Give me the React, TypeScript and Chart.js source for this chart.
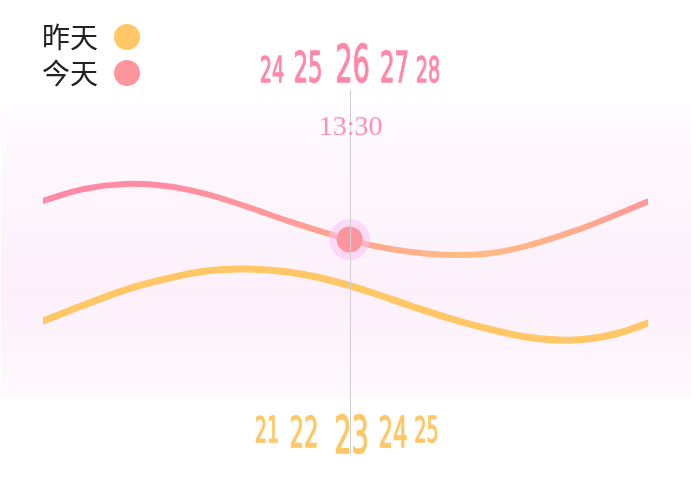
import React, { useEffect, useRef } from 'react';
import { Chart, registerables } from 'chart.js';

Chart.register(...registerables);

// ---- data ----
const hours = [5, 6, 7, 8, 9, 10, 11, 12, 13, 14, 15, 16, 17, 18, 19, 20, 21];
const todayTemps = [27.7, 28.57, 29.37, 29.7, 29.57, 29.03, 28.17, 27.23, 26.37, 25.63, 25.17, 24.97, 25.1, 25.7, 26.57, 27.63, 28.77];
const yesterdayTemps = [19.57, 20.57, 21.63, 22.63, 23.37, 23.9, 24.03, 23.83, 23.3, 22.5, 21.57, 20.7, 19.97, 19.43, 19.3, 19.7, 20.63];
const currentHour = 13.5;
const currentLabel = '13:30';
const todayNow = 26;
const todayTicks = ['24', '25', '26', '27', '28'];
const yesterdayTicks = ['21', '22', '23', '24', '25'];
const legendLabels = ['昨天', '今天'];

const YELLOW = '#ffc766';
const PINK_DOT = '#ff959c';
const PINK_TEXT = '#ff88aa';

function drawNum(ctx: CanvasRenderingContext2D, text: string, cx: number, baseline: number, h: number, color: string) {
  const fs = h / 0.729;
  ctx.save();
  ctx.font = `${fs}px "DejaVu Sans"`;
  ctx.fillStyle = color;
  ctx.strokeStyle = color;
  ctx.lineWidth = 1.3;
  ctx.lineJoin = 'miter';
  ctx.textAlign = 'center';
  ctx.textBaseline = 'alphabetic';
  ctx.translate(cx, baseline);
  ctx.scale(0.54, 1);
  ctx.fillText(text, 0, 0);
  ctx.strokeText(text, 0, 0);
  ctx.restore();
}

export default function App() {
  const ref = useRef<HTMLCanvasElement>(null);
  useEffect(() => {
    const canvas = ref.current!;
    const sizes = [26, 31, 37, 31, 26];
    const topOffsets = [-77.5, -41.5, 3, 45, 78.5];
    const botOffsets = [-82.5, -45.5, 2, 43.5, 77];

    const overlay = {
      id: 'overlay',
      beforeDraw(chart: any) {
        const ctx = chart.ctx as CanvasRenderingContext2D;
        const { top, bottom } = chart.chartArea;
        ctx.save();
        ctx.fillStyle = '#ffffff';
        ctx.fillRect(0, 0, chart.width, chart.height);
        const g = ctx.createLinearGradient(0, top, 0, bottom);
        g.addColorStop(0, '#fffbfe');
        g.addColorStop(0.65, '#fdf0fb');
        g.addColorStop(1, '#fff9fd');
        ctx.fillStyle = g;
        ctx.fillRect(1, top, chart.width - 1, bottom - top);
        ctx.restore();
      },
      afterDatasetsDraw(chart: any) {
        const ctx = chart.ctx as CanvasRenderingContext2D;
        const xs = chart.scales.x;
        const cx = xs.getPixelForValue(currentHour);
        // vertical line
        ctx.save();
        ctx.strokeStyle = '#cfcfcf';
        ctx.lineWidth = 1;
        ctx.beginPath();
        ctx.moveTo(Math.round(cx) + 0.5, 90);
        ctx.lineTo(Math.round(cx) + 0.5, 454);
        ctx.stroke();
        ctx.restore();
        // time label
        ctx.save();
        ctx.font = '28px "Liberation Serif"';
        ctx.fillStyle = '#ff90b4';
        ctx.textAlign = 'center';
        ctx.textBaseline = 'alphabetic';
        ctx.fillText(currentLabel, cx + 1, 135);
        ctx.restore();
        // number rows
        todayTicks.forEach((t, i) => drawNum(ctx, t, cx + topOffsets[i], 82, sizes[i], PINK_TEXT));
        yesterdayTicks.forEach((t, i) => drawNum(ctx, t, cx + botOffsets[i], 416 + sizes[i], sizes[i], YELLOW));
        // legend
        const colors = [YELLOW, PINK_DOT];
        const ys = [37, 73];
        legendLabels.forEach((lab, i) => {
          ctx.save();
          ctx.font = '28px "Noto Sans CJK SC"';
          ctx.fillStyle = '#222222';
          ctx.textAlign = 'left';
          ctx.textBaseline = 'middle';
          ctx.fillText(lab, 42, ys[i]);
          ctx.fillStyle = colors[i];
          ctx.beginPath();
          ctx.arc(127, ys[i], 13, 0, Math.PI * 2);
          ctx.fill();
          ctx.restore();
        });
      },
    };

    const pinkGradient = (context: any) => {
      const chart = context.chart;
      const area = chart.chartArea;
      if (!area) return '#ff8aa6';
      const g = chart.ctx.createLinearGradient(area.left, 0, area.right, 0);
      g.addColorStop(0, '#ff8aa6');
      g.addColorStop(0.2, '#ff8ca4');
      g.addColorStop(0.5, '#ffa590');
      g.addColorStop(0.7, '#ffbd85');
      g.addColorStop(0.85, '#ffb08a');
      g.addColorStop(1, '#ff979b');
      return g;
    };

    const chart = new Chart(canvas, {
      type: 'line',
      data: {
        datasets: [
          {
            label: 'dot',
            data: [{ x: currentHour, y: todayNow }],
            pointRadius: 13,
            pointBackgroundColor: PINK_DOT,
            pointBorderWidth: 0,
            showLine: false,
            order: 0,
          },
          {
            label: 'halo',
            data: [{ x: currentHour, y: todayNow }],
            pointRadius: 20.5,
            pointBackgroundColor: 'rgba(250,195,242,0.55)',
            pointBorderWidth: 0,
            showLine: false,
            order: 1,
          },
          {
            label: legendLabels[1],
            data: hours.map((h, i) => ({ x: h, y: todayTemps[i] })),
            borderColor: pinkGradient,
            borderWidth: 6,
            pointRadius: 0,
            tension: 0.4,
            clip: 0,
            order: 2,
          },
          {
            label: legendLabels[0],
            data: hours.map((h, i) => ({ x: h, y: yesterdayTemps[i] })),
            borderColor: YELLOW,
            borderWidth: 7,
            pointRadius: 0,
            tension: 0.4,
            clip: 0,
            order: 3,
          },
        ] as any,
      },
      options: {
        responsive: false,
        animation: false,
        events: [],
        layout: { padding: { left: 43, right: 43, top: 103, bottom: 107 } },
        scales: {
          x: { type: 'linear', min: 6, max: 20.8, display: false },
          y: { type: 'linear', min: 15.5, max: 35.1, display: false },
        },
        plugins: { legend: { display: false }, tooltip: { enabled: false } },
      },
      plugins: [overlay],
    });
    return () => chart.destroy();
  }, []);

  return (
    <div style={{ position: 'fixed', left: 0, top: 0, width: 691, height: 504, background: '#fff' }}>
      <canvas ref={ref} width={691} height={504} style={{ width: 691, height: 504, display: 'block' }} />
    </div>
  );
}
